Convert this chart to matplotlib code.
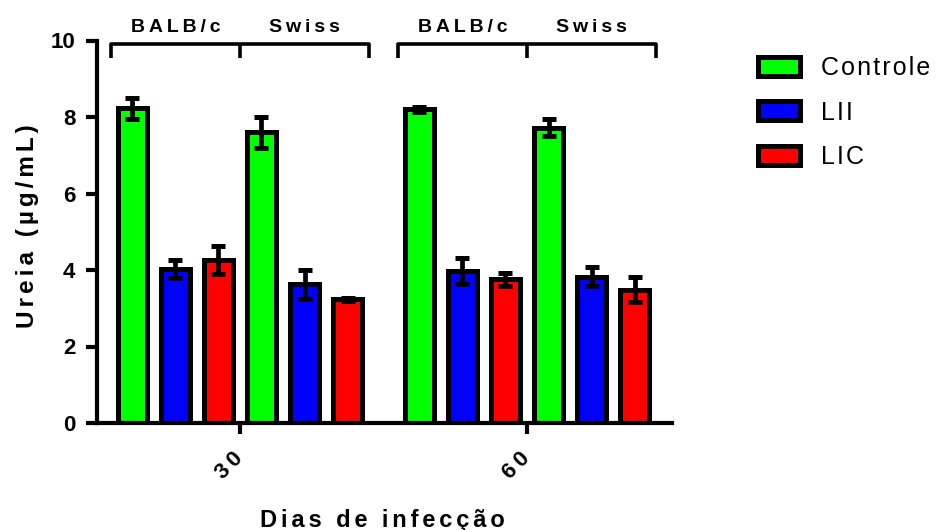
import numpy as np
import matplotlib.pyplot as plt
from matplotlib.patches import Patch

plt.rcParams['font.family'] = ['Liberation Sans', 'DejaVu Sans']

days = ['30', '60']
strains = ['BALB/c', 'Swiss']
groups = ['Controle', 'LII', 'LIC']
colors = ['#00ff00', '#0000ff', '#ff0000']

# order in each list: BALB/c (Controle, LII, LIC), Swiss (Controle, LII, LIC)
ureia_30 = [8.23, 4.03, 4.26, 7.60, 3.63, 3.23]
err_30 = [0.27, 0.24, 0.36, 0.40, 0.38, 0.03]
ureia_60 = [8.20, 3.98, 3.76, 7.72, 3.82, 3.49]
err_60 = [0.07, 0.34, 0.17, 0.22, 0.25, 0.32]


def spaced(text, sep='\u2009'):
  return sep.join(text)


means = [ureia_30, ureia_60]
errs = [err_30, err_60]

fig = plt.figure(figsize=(9.36, 5.30), dpi=100)
ax = fig.add_axes([97 / 936, 1 - 423 / 530, (672 - 97) / 936, (423 - 40.5) / 530])

pitch = 0.15
width = 0.101
for d in range(len(days)):
  for i in range(6):
    x = d + (i - 2.5) * pitch
    ax.bar(x, means[d][i], width=width, color=colors[i % 3],
           edgecolor='black', linewidth=3.6, zorder=2)
    ax.errorbar(x, means[d][i], yerr=errs[d][i], fmt='none', ecolor='black',
                elinewidth=3.4, capsize=5, capthick=3.6, zorder=3)

  # strain brackets
  ax.plot([d - 0.45, d - 0.45, d + 0.45, d + 0.45], [9.53, 9.92, 9.92, 9.53],
          color='black', lw=2.6, clip_on=False, solid_capstyle='butt')
  ax.plot([d, d], [9.92, 9.53], color='black', lw=2.6, clip_on=False,
          solid_capstyle='butt')
  for s, name in enumerate(strains):
    ax.text(d + (s - 0.5) * 0.45, 10.33, spaced(name), ha='center',
            va='center', fontsize=14, fontweight='bold', clip_on=False)

ax.set_xlim(-0.498, 1.505)
ax.set_ylim(0, 10)
ax.set_yticks([0, 2, 4, 6, 8, 10])
ax.set_xticks(range(len(days)))
ax.set_xticklabels([spaced(d) for d in days], rotation=45, ha='right',
                   va='center', rotation_mode='anchor')
for lab in ax.get_xticklabels() + ax.get_yticklabels():
  lab.set_fontsize(16)
  lab.set_fontweight('bold')

for side in ['top', 'right']:
  ax.spines[side].set_visible(False)
for side in ['left', 'bottom']:
  ax.spines[side].set_linewidth(3)
ax.tick_params(axis='y', length=8, width=3, pad=7.5)
ax.tick_params(axis='x', length=8, width=3, pad=15)

fig.text(382 / 936, 1 - 520 / 530, spaced('Dias de infecção', '\u2006'),
         ha='center', va='center', fontsize=17, fontweight='bold')
fig.text(28 / 936, 1 - 226 / 530, spaced('Ureia (µg/mL)', '\u2006'),
         ha='center', va='center', fontsize=17.5, fontweight='bold',
         rotation=90)

handles = [Patch(facecolor=c, edgecolor='black', linewidth=3.6) for c in colors]
fig.legend(handles, [spaced(g, '\u200a') for g in groups], loc='upper left',
           bbox_to_anchor=(757.5 / 936, 1 - 56 / 530), frameon=False,
           fontsize=18, handlelength=1.68, handleheight=0.8,
           handletextpad=0.85, labelspacing=0.82, borderpad=0,
           borderaxespad=0)

fig.savefig('out.png', dpi=100)
